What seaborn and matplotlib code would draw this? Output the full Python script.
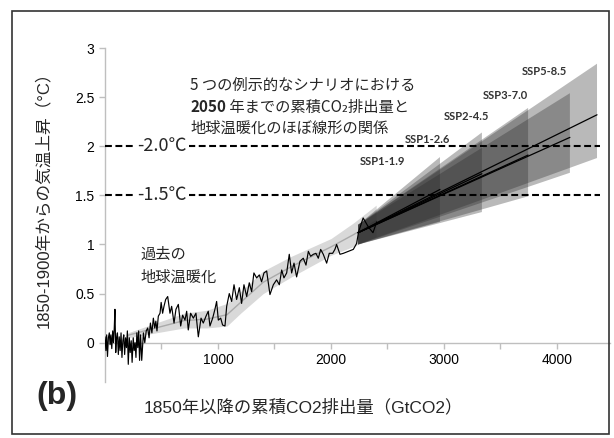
import matplotlib
matplotlib.use('Agg')
import matplotlib.pyplot as plt
import seaborn as sns
import pandas as pd
from matplotlib.patches import Rectangle

# ---------------- data ----------------
hist_x = [0, 8, 15, 22, 30, 38, 45, 52, 60, 68, 75, 82, 88, 95, 102, 110, 118, 126,
          134, 142, 150, 158, 166, 174, 182, 190, 198, 206, 215, 223, 232, 240, 250,
          258, 266, 274, 282, 290, 298, 306, 315, 325, 340, 352, 365, 378, 390, 402,
          415, 428, 440, 450, 460, 472, 487, 497, 510, 522, 537, 555,
          575, 590, 611, 628, 649, 670, 687, 708, 723, 737, 758, 782, 805,
          826, 850, 870, 894, 914, 929, 953, 973, 988, 1003, 1024, 1041, 1062, 1077,
          1100, 1121, 1142, 1165, 1189, 1209, 1230, 1254, 1277, 1298, 1318, 1342,
          1366, 1386, 1407, 1431, 1460, 1490, 1519, 1543, 1564, 1584, 1608, 1631,
          1652, 1673, 1696, 1726, 1755, 1779, 1800, 1820, 1844, 1867, 1888, 1909,
          1932, 1962, 1985, 2015, 2035, 2050, 2080, 2110, 2153, 2198, 2227, 2245,
          2285, 2330, 2372, 2405]
hist_y = [0.06, -0.08, 0.08, -0.14, 0.05, 0.10, -0.02, 0.08, -0.06, 0.12, 0.00, 0.15,
          0.34, -0.10, 0.05, 0.10, -0.12, 0.06, -0.08, 0.10, -0.15, 0.02, 0.08, -0.12,
          0.05, -0.05, 0.12, -0.22, 0.05, -0.10, 0.02, -0.20, 0.05, -0.08, 0.00, -0.15,
          0.10, -0.05, 0.12, -0.18, 0.08, -0.18, 0.10, 0.00, 0.12, 0.15, 0.05, 0.20,
          0.10, 0.25, 0.15, 0.22, 0.12, 0.27, 0.30, 0.41, 0.30, 0.37, 0.44, 0.47,
          0.30, 0.37, 0.20, 0.34, 0.39, 0.17, 0.28, 0.23, 0.32, 0.13,
          0.30, 0.25, 0.30, 0.06, 0.25, 0.20, 0.27, 0.32, 0.17, 0.25, 0.34, 0.42,
          0.23, 0.25, 0.18, 0.17, 0.37, 0.50, 0.42, 0.59, 0.44, 0.56, 0.40, 0.59,
          0.47, 0.61, 0.52, 0.71, 0.66, 0.69, 0.62, 0.71, 0.73, 0.49, 0.59, 0.64,
          0.59, 0.74, 0.66, 0.71, 0.90, 0.71, 0.81, 0.67, 0.83, 0.86, 0.79, 0.93,
          0.88, 0.90, 0.91, 0.86, 0.95, 0.90, 0.81, 0.91, 0.91, 0.95, 1.00, 0.90,
          0.91, 0.93, 0.95, 1.01, 1.13, 1.27, 1.18, 1.12, 1.23]

band_x = [200, 450, 700, 900, 1080, 1200, 1400, 1650, 2000, 2200, 2400]
band_low = [0.05, 0.10, 0.15, 0.15, 0.17, 0.30, 0.50, 0.67, 0.89, 0.98, 1.08]
band_high = [0.10, 0.20, 0.30, 0.33, 0.40, 0.52, 0.73, 0.88, 1.06, 1.22, 1.40]

scenarios = ['SSP1-1.9', 'SSP1-2.6', 'SSP2-4.5', 'SSP3-7.0', 'SSP5-8.5']
proj_start_x = 2240
proj_start_low = 1.00
proj_start_high = 1.20
proj_start_mid = 1.12
proj_end_x = [2965, 3336, 3745, 4115, 4355]
proj_end_low = [1.23, 1.33, 1.49, 1.73, 1.88]
proj_end_high = [1.89, 2.14, 2.39, 2.54, 2.84]
proj_end_mid = [1.56, 1.72, 1.91, 2.09, 2.32]
label_x = [2460, 2858, 3195, 3540, 3885]
label_y = [1.84, 2.07, 2.30, 2.52, 2.76]

thresholds = [1.5, 2.0]
threshold_labels = ['-1.5℃', '-2.0℃']

x_ticks = [500, 1000, 1500, 2000, 2500, 3000, 3500, 4000]
x_ticklabels = ['', '1000', '', '2000', '', '3000', '', '4000']
y_ticks = [0, 0.5, 1, 1.5, 2, 2.5, 3]
y_ticklabels = ['0', '0.5', '1', '1.5', '2', '2.5', '3']

# ---------------- style ----------------
sns.set_theme(style='white')
plt.rcParams['font.family'] = ['Liberation Sans', 'Noto Sans CJK JP', 'DejaVu Sans']
JP = ['Noto Sans CJK JP', 'DejaVu Sans']
JPA = ['Liberation Sans', 'Noto Sans CJK JP', 'DejaVu Sans']

W, H = 614, 438
fig = plt.figure(figsize=(W / 100, H / 100), dpi=100)
fig.patch.set_facecolor('white')
ax = fig.add_axes([105 / W, 1 - 382 / H, 505 / W, (382 - 48) / H])
ax.set_facecolor('white')

# historical band
ax.fill_between(band_x, band_low, band_high, color='#d9d9d9', lw=0, zorder=1)
band_mid = [(a + b) / 2 for a, b in zip(band_low, band_high)]
sns.lineplot(x=band_x, y=band_mid, ax=ax, color='#aaaaaa', lw=1.0,
             estimator=None, sort=False, zorder=2)

# projection fans
for sx, ex, el, eh in zip(scenarios, proj_end_x, proj_end_low, proj_end_high):
    ax.fill([proj_start_x, ex, ex, proj_start_x],
            [proj_start_low, el, eh, proj_start_high],
            color='#262626', alpha=0.32, lw=0, zorder=3)

# historical line
hist_df = pd.DataFrame({'x': hist_x, 'y': hist_y})
sns.lineplot(data=hist_df, x='x', y='y', ax=ax, color='black', lw=0.85,
             estimator=None, sort=False, zorder=4)

# central projection lines
proj_df = pd.DataFrame({
    'scenario': [s for s in scenarios for _ in range(2)],
    'x': [v for ex in proj_end_x for v in (proj_start_x, ex)],
    'y': [v for em in proj_end_mid for v in (proj_start_mid, em)],
})
sns.lineplot(data=proj_df, x='x', y='y', units='scenario', estimator=None,
             sort=False, ax=ax, color='black', lw=0.9, zorder=5)

# thresholds
ax.hlines(thresholds, 0, 4380, colors='black', linestyles=(0, (3.3, 1.7)),
          lw=1.5, zorder=6)
for t, lab in zip(thresholds, threshold_labels):
    ax.text(285, t, lab, ha='left', va='center', fontsize=13, family=JP,
            bbox=dict(facecolor='white', edgecolor='none', pad=1.5), zorder=7)

for name, lx, ly in zip(scenarios, label_x, label_y):
    ax.text(lx, ly, name, ha='center', va='center', fontsize=8,
            fontweight='bold', color='#333333', family=['Lato', 'DejaVu Sans'],
            zorder=8)

ax.text(310, 0.78, '過去の\n地球温暖化', ha='left', va='center', fontsize=11,
        family=JP, linespacing=1.45, zorder=8)

# axes styling
ax.set_xlim(0, 4470)
ax.set_ylim(-0.4, 3.0)
for s in ['top', 'right']:
    ax.spines[s].set_visible(False)
for s in ['left', 'bottom']:
    ax.spines[s].set_color('#bfbfbf')
    ax.spines[s].set_linewidth(1.0)
ax.spines['bottom'].set_position(('data', 0))
ax.set_xticks(x_ticks)
ax.set_xticklabels(x_ticklabels)
ax.set_yticks(y_ticks)
ax.set_yticklabels(y_ticklabels)
ax.tick_params(axis='both', direction='out', length=4, width=1, color='#bfbfbf',
               labelsize=10, labelcolor='black', bottom=True, left=True)
ax.set_xlabel('')
ax.set_ylabel('')

# figure texts
fig.text(43 / W, 1 - 196 / H, '1850-1900年からの気温上昇（°C）', rotation=90,
         ha='center', va='center', fontsize=12, family=JPA)
fig.text(303 / W, 1 - 407 / H, '1850年以降の累積CO2排出量（GtCO2）',
         ha='center', va='center', fontsize=12.5, family=JPA)
fig.text(57 / W, 1 - 396 / H, '(b)', ha='center', va='center', fontsize=23,
         fontweight='bold', family=['Liberation Sans', 'DejaVu Sans'])

fig.text(190 / W, 1 - 85 / H, '5 つの例示的なシナリオにおける', ha='left',
         va='center', fontsize=11, family=JP)
t_b = fig.text(190 / W, 1 - 107 / H, '2050', ha='left', va='center',
               fontsize=11, fontweight='bold', family=JP)
fig.canvas.draw()
bb = t_b.get_window_extent()
fig.text(bb.x1 / W, 1 - 107 / H, ' 年までの累積CO₂排出量と', ha='left',
         va='center', fontsize=11, family=JP)
fig.text(190 / W, 1 - 128 / H, '地球温暖化のほぼ線形の関係', ha='left',
         va='center', fontsize=11, family=JP)

# outer border
fig.patches.append(Rectangle((12 / W, 1 - 434 / H), (609 - 12) / W, (434 - 11) / H,
                             transform=fig.transFigure, fill=False,
                             edgecolor='#333333', lw=1.2))

fig.savefig('out.png', dpi=100, facecolor='white')
